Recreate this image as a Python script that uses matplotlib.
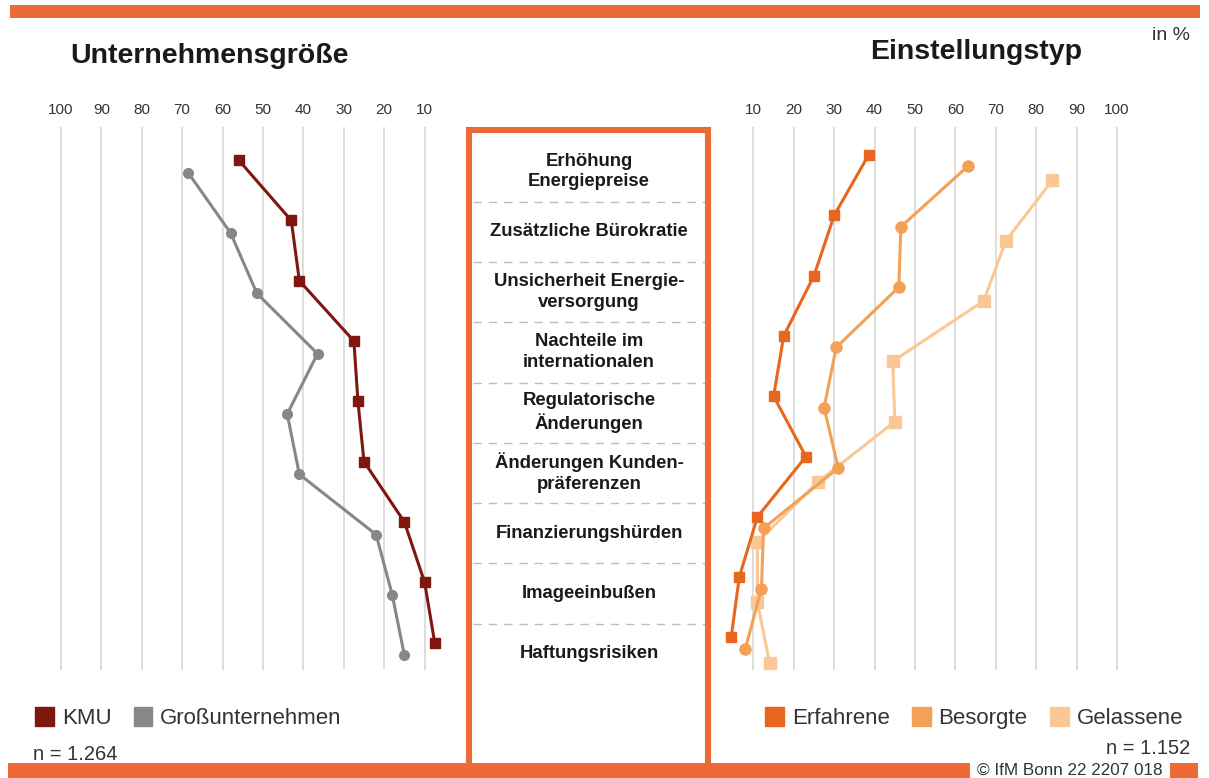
import numpy as np
import matplotlib
matplotlib.use("Agg")
import matplotlib.pyplot as plt
from matplotlib.patches import Rectangle, Patch

plt.rcParams['font.family'] = ['Liberation Sans', 'DejaVu Sans']

# categories (top to bottom)
categories = [
    "Erhöhung\nEnergiepreise",
    "Zusätzliche Bürokratie",
    "Unsicherheit Energie-\nversorgung",
    "Nachteile im\ninternationalen",
    "Regulatorische\nÄnderungen",
    "Änderungen Kunden-\npräferenzen",
    "Finanzierungshürden",
    "Imageeinbußen",
    "Haftungsrisiken",
]

# left panel: Unternehmensgröße (in %)
kmu = [56, 43, 41, 27.5, 26.5, 25, 15, 10, 7.5]
gross = [68.5, 58, 51.5, 36.5, 44, 41, 22, 18, 15]

# right panel: Einstellungstyp (in %)
erfahrene = [38.5, 30, 25, 17.5, 15, 23, 11, 6.5, 4.5]
besorgte = [63, 46.5, 46, 30.5, 27.5, 31, 12.5, 12, 8]
gelassene = [84, 72.5, 67, 44.5, 45, 26, 11, 11, 14]

ticks = [10, 20, 30, 40, 50, 60, 70, 80, 90, 100]

ORANGE = "#EC6A38"
W, H = 1209, 778

fig = plt.figure(figsize=(W / 100, H / 100), dpi=100)


def px(x0, y0, x1, y1):
    # pixel box -> figure fraction [left, bottom, width, height]
    return [x0 / W, 1 - y1 / H, (x1 - x0) / W, (y1 - y0) / H]


ylim = (8.35, -0.655)
idx = np.arange(len(categories))


def style_axis(ax):
    ax.set_ylim(*ylim)
    ax.set_xticks(ticks)
    ax.xaxis.tick_top()
    ax.tick_params(axis='x', length=0, pad=7, labelsize=11, labelcolor="#333333")
    ax.set_yticks([])
    for s in ax.spines.values():
        s.set_visible(False)
    ax.grid(axis='x', color="#D4D4D4", lw=1.1)
    ax.set_axisbelow(True)
    ax.patch.set_alpha(0)


# left panel
axl = fig.add_axes(px(12.5, 127, 465, 670))
axl.set_xlim(112, 0)
style_axis(axl)
axl.plot(gross, idx + 0.105, color="#878787", lw=2.2, marker='o', ms=7)
axl.plot(kmu, idx - 0.105, color="#7F1710", lw=2.2, marker='s', ms=6.5)

# right panel
axr = fig.add_axes(px(713, 127, 1197.8, 670))
axr.set_xlim(0, 120)
style_axis(axr)
axr.plot(gelassene, idx + 0.23, color="#FAC896", lw=2.2, marker='s', ms=8)
axr.plot(besorgte, idx, color="#F3A157", lw=2.2, marker='o', ms=8)
axr.plot(erfahrene, idx - 0.19, color="#E9661E", lw=2.2, marker='s', ms=6.5)

# centre box with category labels
axc = fig.add_axes(px(473, 132, 705, 675))
axc.set_ylim(*ylim)
axc.set_xlim(0, 1)
axc.axis('off')
for i, lab in enumerate(categories):
    axc.text(0.5, i, lab, ha='center', va='center', fontsize=13.3,
             fontweight='bold', color="#1A1A1A", linespacing=1.3)
    if i < len(categories) - 1:
        axc.axhline(i + 0.5, color="#BDBDBD", lw=1, ls=(0, (6, 5)))

fig.patches.append(Rectangle((469 / W, 1 - 775 / H), 239 / W, 645 / H,
                             transform=fig.transFigure, fill=False,
                             ec=ORANGE, lw=4.4))

# top and bottom bars
fig.patches.append(Rectangle((10 / W, 1 - 18 / H), 1190 / W, 13 / H,
                             transform=fig.transFigure, color=ORANGE, lw=0))
fig.patches.append(Rectangle((8 / W, 1 - 778 / H), 962 / W, 15 / H,
                             transform=fig.transFigure, color=ORANGE, lw=0))
fig.patches.append(Rectangle((1170 / W, 1 - 778 / H), 28 / W, 15 / H,
                             transform=fig.transFigure, color=ORANGE, lw=0))
fig.text(1070 / W, 1 - 770 / H, "© IfM Bonn 22 2207 018", ha='center',
         va='center', fontsize=12.3, color="#333333")

# titles
fig.text(70 / W, 1 - 56 / H, "Unternehmensgröße", fontsize=20.5,
         fontweight='bold', color="#1A1A1A", va='center')
fig.text(870 / W, 1 - 52 / H, "Einstellungstyp", fontsize=20.5,
         fontweight='bold', color="#1A1A1A", va='center')
fig.text(1190 / W, 1 - 36 / H, "in %", fontsize=14, color="#333333",
         ha='right', va='center')

# legends
leg_kw = dict(frameon=False, fontsize=16, handlelength=0.85, handleheight=0.9,
              handletextpad=0.35, columnspacing=1.0, labelcolor="#333333",
              borderaxespad=0, borderpad=0)
left_handles = [Patch(color="#7F1710", label="KMU"),
                Patch(color="#878787", label="Großunternehmen")]
fig.legend(handles=left_handles, loc='center left',
           bbox_to_anchor=(35 / W, 1 - 718 / H), ncol=2, **leg_kw)
right_handles = [Patch(color="#E9661E", label="Erfahrene"),
                 Patch(color="#F3A157", label="Besorgte"),
                 Patch(color="#FAC896", label="Gelassene")]
fig.legend(handles=right_handles, loc='center right',
           bbox_to_anchor=(1183 / W, 1 - 718 / H), ncol=3, **leg_kw)

fig.text(33 / W, 1 - 755 / H, "n = 1.264", fontsize=14.5, color="#333333",
         va='center')
fig.text(1190 / W, 1 - 749 / H, "n = 1.152", fontsize=14.5, color="#333333",
         ha='right', va='center')

fig.savefig("out.png", dpi=100, facecolor='white')
